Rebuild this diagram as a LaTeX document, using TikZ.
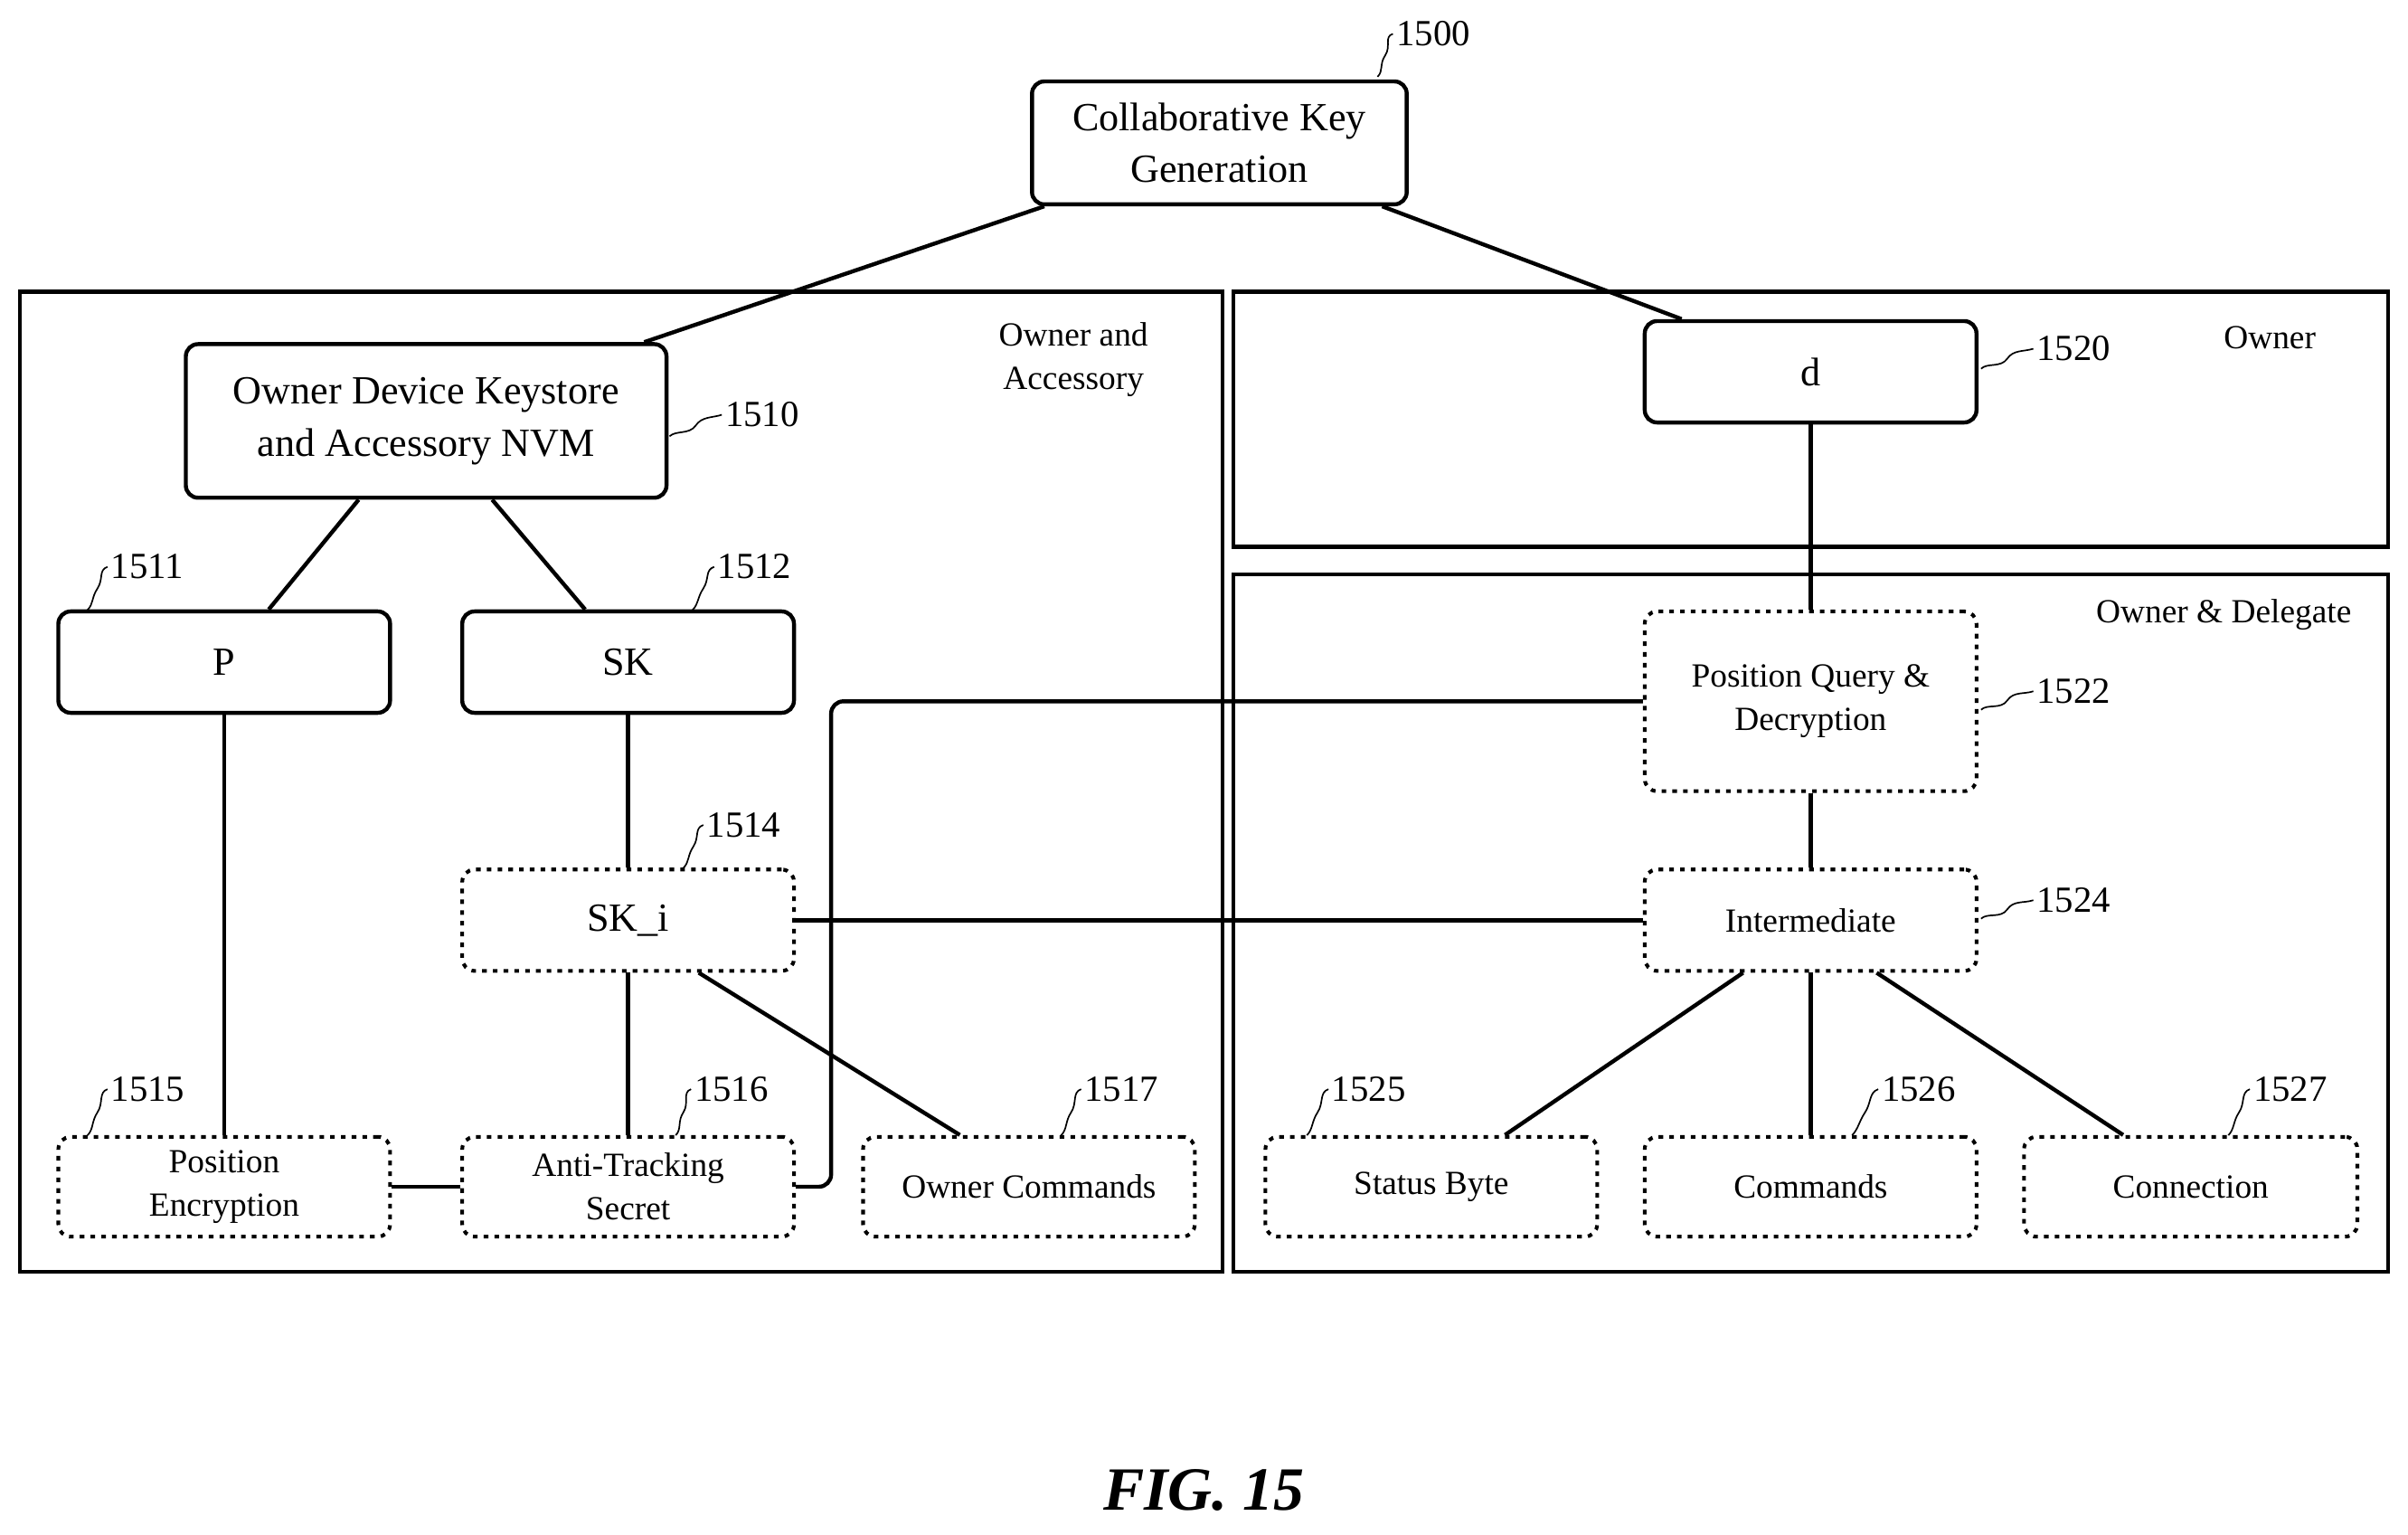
\documentclass[tikz,border=0pt]{standalone}
\usepackage{fontspec}
\setmainfont{Liberation Serif}
\usetikzlibrary{calc}
\begin{document}
\begin{tikzpicture}[x=1pt,y=-1pt,line width=2.6pt,
  box/.style={draw,rounded corners=8pt,align=center,inner sep=0pt},
  dbox/.style={box,dash pattern=on 3pt off 4pt,line width=2.4pt},
  big/.style={font=\fontsize{26}{34}\selectfont},
  small/.style={font=\fontsize{22}{28}\selectfont},
  lab/.style={font=\fontsize{24}{28}\selectfont,anchor=west,inner sep=1pt},
  sq/.style={line width=1pt}]
\useasboundingbox (0,0) rectangle (1568,999);
\newcommand{\bx}[7]{\node[#1,#2,minimum width=#5-#4,minimum height=#7-#6] (#3) at ({(#4+#5)/2},{(#6+#7)/2})}
\newcommand{\lbl}[5]{\coordinate (#1s) at (#2,#3); \node[lab] (#1) at ($(#2,#3)+(#4)$) {#5};
  \draw[sq] (#1s) .. controls +(4,-4) and +(-4,6) .. ($(#1s)!0.5!(#1.west)$) .. controls +(4,-6) and +(-6,2) .. (#1.west);}
% frames
\draw (13,190) rectangle (796,828);
\draw (803,190) rectangle (1555,356);
\draw (803,374) rectangle (1555,828);
\node[align=center,small] (fa) at (699,234) {Owner and\\Accessory};
\node[small] (fo) at (1478,220) {Owner};
\node[small] (fd) at (1448,400) {Owner \& Delegate};
% boxes
\bx{box}{big}{k}{672}{916}{53}{133} {Collaborative Key\\Generation};
\bx{box}{big}{nvm}{121}{434}{224}{324} {Owner Device Keystore\\and Accessory NVM};
\bx{box}{big}{p}{38}{254}{398}{464} {P};
\bx{box}{big}{sk}{301}{517}{398}{464} {SK};
\bx{dbox}{big}{ski}{301}{517}{566}{632} {SK\_i};
\bx{dbox}{small}{pe}{38}{254}{740}{805} {Position\\Encryption};
\bx{dbox}{small}{at}{301}{517}{740}{805} {Anti-Tracking\\Secret};
\bx{dbox}{small}{oc}{562}{778}{740}{805} {Owner Commands};
\bx{box}{big}{d}{1071}{1287}{209}{275} {d};
\bx{dbox}{small}{pq}{1071}{1287}{398}{515} {Position Query \&\\Decryption};
\bx{dbox}{small}{im}{1071}{1287}{566}{632} {Intermediate};
\bx{dbox}{small}{sb}{824}{1040}{740}{805} {Status Byte};
\bx{dbox}{small}{cm}{1071}{1287}{740}{805} {Commands};
\bx{dbox}{small}{cn}{1318}{1535}{740}{805} {Connection};
% connectors
\draw ($(k.south)+(-114,0)$) -- ($(nvm.north)+(142,0)$);
\draw ($(k.south)+(106,0)$) -- ($(d.north)+(-84,0)$);
\draw ($(nvm.south)+(-44,0)$) -- ($(p.north)+(29,0)$);
\draw ($(nvm.south)+(43,0)$) -- ($(sk.north)+(-28,0)$);
\draw (p.south) -- (pe.north);
\draw (sk.south) -- (ski.north);
\draw (ski.south) -- (at.north);
\draw ($(ski.south)+(46,0)$) -- ($(oc.north)+(-45,0)$);
\draw (pe.east) -- (at.west);
\draw[rounded corners=8pt] (at.east) -- ++(23,0) |- (pq.west);
\draw (ski.east) -- (im.west);
\draw (d.south) -- (pq.north);
\draw (pq.south) -- (im.north);
\draw ($(im.south)+(-44,0)$) -- ($(sb.north)+(48,0)$);
\draw (im.south) -- (cm.north);
\draw ($(im.south)+(43,0)$) -- ($(cn.north)+(-44,0)$);
% reference labels
\lbl{l1500}{897}{50}{10,-28}{1500}
\lbl{l1510}{436}{284}{34,-14}{1510}
\lbl{l1511}{57}{397}{13,-28}{1511}
\lbl{l1512}{451}{397}{14,-28}{1512}
\lbl{l1514}{445}{565}{13,-28}{1514}
\lbl{l1515}{57}{739}{13,-30}{1515}
\lbl{l1516}{440}{739}{10,-30}{1516}
\lbl{l1517}{691}{739}{13,-30}{1517}
\lbl{l1520}{1290}{240}{34,-13}{1520}
\lbl{l1522}{1290}{462}{34,-12}{1522}
\lbl{l1524}{1290}{598}{34,-12}{1524}
\lbl{l1525}{851}{739}{14,-30}{1525}
\lbl{l1526}{1206}{739}{17,-30}{1526}
\lbl{l1527}{1451}{739}{14,-30}{1527}
\node[font=\fontsize{40}{44}\selectfont\bfseries\itshape] (fig) at (784,970) {FIG. 15};
\end{tikzpicture}
\end{document}
